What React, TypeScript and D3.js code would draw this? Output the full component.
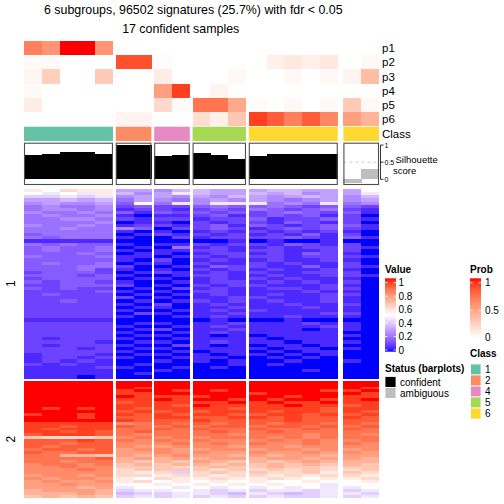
import React from "react";
import * as d3 from "d3";

const FONT = "'Liberation Sans', Arial, Helvetica, sans-serif";

// ---- data ----
const groupSizes = [5, 2, 2, 3, 5, 2];
const groupClass = [1, 2, 4, 5, 6, 6];
const classColors: Record<number, string> = {
  1: "#66C2A5",
  2: "#FC8D62",
  4: "#E78AC3",
  5: "#A6D854",
  6: "#FFD92F",
};
const legendClasses = [1, 2, 4, 5, 6];

const probLabels = ["p1", "p2", "p3", "p4", "p5", "p6"];
const p1 = [0.65, 0.55, 1.0, 1.0, 0.55, 0, 0, 0, 0, 0, 0, 0, 0, 0, 0, 0, 0, 0, 0];
const p2 = [0.03, 0.03, 0, 0, 0, 0.85, 0.85, 0.02, 0, 0, 0, 0, 0, 0.08, 0.12, 0.08, 0.12, 0, 0.04];
const p3 = [0.05, 0.25, 0, 0, 0.28, 0, 0, 0.1, 0, 0, 0, 0.04, 0, 0, 0.04, 0, 0.04, 0.06, 0.35];
const p4 = [0.03, 0, 0, 0, 0, 0, 0, 0.5, 0.9, 0, 0.06, 0, 0, 0, 0, 0, 0, 0, 0];
const p5 = [0.1, 0, 0, 0, 0, 0, 0, 0.2, 0.02, 0.7, 0.7, 0.45, 0.02, 0, 0.04, 0, 0.03, 0.28, 0.04];
const p6 = [0, 0, 0, 0, 0, 0.06, 0.06, 0, 0, 0.18, 0.08, 0.3, 0.9, 0.8, 0.65, 0.8, 0.62, 0.5, 0.4];
const probRows = [p1, p2, p3, p4, p5, p6];

const silhouette = [0.71, 0.74, 0.79, 0.79, 0.74, 0.99, 0.99, 0.68, 0.71, 0.77, 0.71, 0.59, 0.68, 0.74, 0.74, 0.74, 0.74, -0.1, 0.29];
const confident = [1, 1, 1, 1, 1, 1, 1, 1, 1, 1, 1, 1, 1, 1, 1, 1, 1, 0, 0];

// heatmap rows: letters a..u -> 0..1 in steps of 0.05 (groups separated by spaces)
const cluster1Rows = [
  "lkmll gg fh hgg ghhgg gk",
  "kjkjl hf gj hgg hghfg gj",
  "iijij fg gf gfh gfghg fh",
  "gghgh eg fe fgf gfefg fg",
  "fgffg dk ej fjj jefej ef",
  "efeef cd cc ded dedcd dc",
  "effef bc cb cdc edcde cb",
  "feefe db dc dcd cdedc db",
  "efeef ba bb cdb cdcdb ca",
  "eeffe cb cc bcc dbccd cb",
  "eeeef ab ba cbc cbdcb ca",
  "feefe bc cb cdb dcbcd db",
  "eefee fd ac cdc bcdcd cb",
  "eeeee ba ba bcb cbcbc ba",
  "deeee ab cb cbc bcbdb ca",
  "edeee ba ac bcc ccdcb db",
  "bbbbb aa aa aab abaab aa",
  "ededd ba bb cbc cbdcb ca",
  "dedde ab ae bcb bcbcc cb",
  "dedde ba bb ccb ccbbc ca",
  "ddded ab ba bcc bcbdc ba",
  "eddde bb ab cbc ccbcc cb",
  "ddddd ba ca bcb bcbbc ba",
  "dedde ab ba cbb cbcbb ca",
  "dddee ca ab bdc cbbdb cb",
  "dddec ba ba cbc bcbbc ba",
  "cdddc ab cb bcb cbbcc ca",
  "dddcd ba ab ccb bcbbc cb",
  "cdddd ab ba bcb cbcbb ba",
  "dcddc ba ab bcc bcbcb ca",
  "ccddd ca ba cbc cbbbc ba",
  "dcdcc ab ac bcb bccbc ca",
  "ccccd ba ba ccb bbbcb ba",
  "cdccc ab ab bcb bcbbc ca",
  "ccccc ca ba bbc cbbbc ba",
  "ccdcc ab ab cbc bcbbc ba",
  "ccccc ba ca bcb bbcbb ca",
  "ccccc ab ba bbc bbbcb ba",
  "ccccc ba ab bcb cbbbb ba",
  "ccccc ac ba bbc bbbbc ca",
  "ccccc ba ab bcb bbcbb ba",
  "bbbbb aa aa aba aabaa aa",
  "ccccc ab ba bbc bbbcb ba",
  "ccccc ba ab bcb bbbbc ba",
  "ccccc ab ca bbc bbbab ba",
  "ccccc ba ab bcb bbbbb aa",
  "ccccc ab ba bab abbbb ba",
  "cbccc ba ab bbb babbb aa",
  "ccccb ab ba bcb bbabb ba",
  "cbccc ba ac bab abbab aa",
  "cccbc ab ba bbb babba ba",
  "ccccc ba ab abb ababb aa",
  "bcccb ab ba bab babab aa",
  "bccbc ba ab bba ababa aa",
  "bcbcb aa ba bab aabaa ba",
  "cbcbb ab aa aab abaaa aa",
  "bbbbc ba ab aba aaaaa aa",
  "bbbbb aa ba aaa aaaba aa",
  "bbbbb ab aa aaa aaaaa aa",
  "bbbab aa aa aaa aaaaa aa",
];

const cluster2Rows = [
  "uuuuu uu uu uuu uuuuu uu",
  "uuuuu uu uu uuu uuuuu uu",
  "uuuuu ut uu uuu uuuuu ut",
  "uuuuu tu ut utu uuuut tu",
  "uuuuu tt uu uuu tuuuu ut",
  "uuuuu ut tt tuu uutuu tt",
  "uuuuu tt ut uut utuut tu",
  "uuuuu st tt ttu tuttu tt",
  "uuuuu tt ts utt ttutt st",
  "ututu ts tt tts tttts tt",
  "uuuuu st st stt tstts ts",
  "tuutu ts ts tts sttst st",
  "uuutu ss tt sst tstss ts",
  "uuuuu ts ss tss sstss ss",
  "ttttt qr sr srs srssr sr",
  "ttstt sr rs rss rssrs rs",
  "tsttt rr sr srr srrsr sr",
  "ttsts rs rr rsr rsrrr rr",
  "sttts rq rr rrq rrrqr rq",
  "nmmmn qr qr qrr rqrqr rr",
  "sssts rq rq rqq qrqrq qr",
  "ssrss qq qr qrq rqqrq rq",
  "srsss qp pq qqp qqpqq qq",
  "rssrs pq qp pqq pqqpq pq",
  "srrss pp qp qpp qppqp qp",
  "rroon po pq ppo poppo pp",
  "rrrrs op op opp oppop po",
  "rrqrr on on pon onopo oo",
  "qrrqr no no ono nonon on",
  "qqrqq nn nm non nonnm nn",
  "qqqrq mn nn nmn mnmnm mn",
  "qqqqq ml mi mnm nmmnl nm",
  "pqqpq mm lm mlm mlmlm ml",
  "qpqqp lk ml lml lmlkl lm",
  "pqppq lm kl klk lkklk kl",
  "ppqpp kk lk lkl klkkj kk",
  "pppop jk kj kjk jkjkj jk",
  "opppo ij jk jij ijjij ij",
  "ooopo hi ij jih jihij ji",
  "nonon ij ij iji ijiij ij",
];

const valueTicks = [0, 0.2, 0.4, 0.6, 0.8, 1];
const probTicks = [0, 0.5, 1];
const silTicks = [0, 0.5, 1];
const statusItems = [
  { label: "confident", color: "#000000" },
  { label: "ambiguous", color: "#BEBEBE" },
];

const titleLine1 = "6 subgroups, 96502 signatures (25.7%) with fdr < 0.05";
const titleLine2 = "17 confident samples";

// ---- helpers ----
const decodeRow = (s: string) =>
  s.replace(/\s+/g, "").split("").map((c) => (c.charCodeAt(0) - 97) / 20);

const valueColor = d3
  .scaleLinear<string>()
  .domain([0, 0.5, 1])
  .range(["#0000FF", "#FFFFFF", "#FF0000"])
  .interpolate(d3.interpolateLab)
  .clamp(true);

const probColor = d3
  .scaleLinear<string>()
  .domain([0, 1])
  .range(["#FFFFFF", "#FF0000"])
  .interpolate(d3.interpolateLab)
  .clamp(true);

// layout
const X0 = 24;
const X1 = 379;
const GAP = 2.83;
const BIG_GAP = 5.67;
const nCols = groupSizes.reduce((a, b) => a + b, 0);
const gaps = groupSizes.map((_, i) => (i === 0 ? 0 : i === groupSizes.length - 1 ? BIG_GAP : GAP));
const totalGap = gaps.reduce((a, b) => a + b, 0);
const colW = (X1 - X0 - totalGap) / nCols;

type Group = { start: number; end: number; cols: number[]; scale: d3.ScaleBand<string>; cls: number };
const groups: Group[] = [];
{
  let x = X0;
  let c = 0;
  groupSizes.forEach((n, gi) => {
    x += gaps[gi];
    const cols = d3.range(c, c + n);
    const scale = d3
      .scaleBand<string>()
      .domain(cols.map(String))
      .range([x, x + n * colW])
      .paddingInner(0)
      .paddingOuter(0);
    groups.push({ start: x, end: x + n * colW, cols, scale, cls: groupClass[gi] });
    x += n * colW;
    c += n;
  });
}
const colX = (c: number) => {
  const g = groups.find((gr) => gr.cols.includes(c))!;
  return { x: g.scale(String(c))!, w: g.scale.bandwidth() };
};

const probY = d3.scaleBand<string>().domain(probLabels).range([41, 126.2]);
const classY = [126.7, 141];
const silBox = [142.7, 185];
const silY = d3.scaleLinear().domain([0, 1]).range([179.3, 145]);

const c1 = cluster1Rows.map(decodeRow);
const c2 = cluster2Rows.map(decodeRow);
const y1 = d3.scaleBand<number>().domain(d3.range(c1.length)).range([189, 378.3]);
const y2 = d3.scaleBand<number>().domain(d3.range(c2.length)).range([380.7, 497.7]);

const valueLegendY = d3.scaleLinear().domain([0, 1]).range([350, 282.7]);
const probLegendY = d3.scaleLinear().domain([0, 1]).range([337.7, 282.7]);

function HeatBlock({ rows, yScale }: { rows: number[][]; yScale: d3.ScaleBand<number> }) {
  return (
    <g shapeRendering="crispEdges">
      {rows.map((r, ri) =>
        r.map((v, ci) => {
          const { x, w } = colX(ci);
          return (
            <rect
              key={`${ri}-${ci}`}
              x={x}
              y={yScale(ri)!}
              width={w + 0.4}
              height={yScale.bandwidth() + 0.4}
              fill={valueColor(v)}
            />
          );
        })
      )}
    </g>
  );
}

export default function App() {
  const valueStops = d3.range(0, 1.0001, 0.05);
  return (
    <svg
      width={504}
      height={504}
      viewBox="0 0 504 504"
      style={{ position: "absolute", left: 0, top: 0, background: "#fff" }}
      fontFamily={FONT}
    >
      <defs>
        <linearGradient id="valGrad" x1="0" y1="1" x2="0" y2="0">
          {valueStops.map((s) => (
            <stop key={s} offset={`${s * 100}%`} stopColor={valueColor(s)} />
          ))}
        </linearGradient>
        <linearGradient id="probGrad" x1="0" y1="1" x2="0" y2="0">
          {valueStops.map((s) => (
            <stop key={s} offset={`${s * 100}%`} stopColor={probColor(s)} />
          ))}
        </linearGradient>
      </defs>
      <rect width={504} height={504} fill="#fff" />

      {/* title */}
      <text x={193.3} y={14} fontSize={12.4} textAnchor="middle">
        {titleLine1}
      </text>
      <text x={180.7} y={32.7} fontSize={12.4} textAnchor="middle">
        {titleLine2}
      </text>

      {/* probability annotation */}
      <g shapeRendering="crispEdges">
        {probRows.map((row, ri) =>
          row.map((v, ci) => {
            const { x, w } = colX(ci);
            return (
              <rect
                key={`p${ri}-${ci}`}
                x={x}
                y={probY(probLabels[ri])!}
                width={w + 0.3}
                height={probY.bandwidth()}
                fill={probColor(v)}
              />
            );
          })
        )}
      </g>
      {probLabels.map((l) => (
        <text key={l} x={382} y={probY(l)! + probY.bandwidth() / 2 + 4} fontSize={11.5}>
          {l}
        </text>
      ))}

      {/* class annotation */}
      {groups.map((g, gi) => (
        <rect
          key={`cls${gi}`}
          x={g.start}
          y={classY[0]}
          width={g.end - g.start}
          height={classY[1] - classY[0]}
          fill={classColors[g.cls]}
        />
      ))}
      <text x={382} y={138} fontSize={11.5}>
        Class
      </text>

      {/* silhouette */}
      {groups.map((g, gi) => (
        <g key={`sil${gi}`}>
          {g.cols.map((c) => {
            const v = silhouette[c];
            const y0 = silY(0);
            const yv = silY(v);
            return (
              <rect
                key={c}
                x={g.scale(String(c))!}
                y={Math.min(y0, yv)}
                width={g.scale.bandwidth() + 0.3}
                height={Math.abs(y0 - yv)}
                fill={confident[c] ? "#000" : "#BEBEBE"}
                shapeRendering="crispEdges"
              />
            );
          })}
          {gi === groups.length - 1 && (
            <line
              x1={g.start}
              x2={g.end}
              y1={silY(0.5)}
              y2={silY(0.5)}
              stroke="#CCCCCC"
              strokeWidth={1}
              strokeDasharray="3,3"
            />
          )}
          <rect
            x={g.start + 0.5}
            y={silBox[0] + 0.5}
            width={g.end - g.start - 1}
            height={silBox[1] - silBox[0] - 1}
            fill="none"
            stroke="#4D4D4D"
            strokeWidth={1.1}
          />
        </g>
      ))}
      <line x1={380.5} x2={380.5} y1={silY(1)} y2={silY(0)} stroke="#000" strokeWidth={0.8} />
      {silTicks.map((t) => (
        <g key={`st${t}`}>
          <line x1={380.5} x2={383.5} y1={silY(t)} y2={silY(t)} stroke="#000" strokeWidth={0.8} />
          <text x={384.5} y={silY(t) + 2.5} fontSize={7}>
            {String(t)}
          </text>
        </g>
      ))}
      <text x={395.5} y={162.5} fontSize={9.5}>
        Silhouette
      </text>
      <text x={393} y={173.5} fontSize={9.5}>
        score
      </text>

      {/* heatmap */}
      <HeatBlock rows={c1} yScale={y1} />
      <HeatBlock rows={c2} yScale={y2} />

      {/* row titles */}
      <text transform={`translate(14.5,${(189 + 378.3) / 2}) rotate(-90)`} fontSize={12} textAnchor="middle">
        1
      </text>
      <text transform={`translate(14.5,${(380.7 + 497.7) / 2}) rotate(-90)`} fontSize={12} textAnchor="middle">
        2
      </text>

      {/* Value legend */}
      <text x={385} y={273} fontSize={10} fontWeight="bold">
        Value
      </text>
      <rect x={385} y={278.3} width={11} height={73.4} fill="url(#valGrad)" />
      {valueTicks.map((t) => (
        <g key={`vt${t}`}>
          <line x1={385} x2={387.5} y1={valueLegendY(t)} y2={valueLegendY(t)} stroke="#fff" strokeWidth={0.8} />
          <line x1={393.5} x2={396} y1={valueLegendY(t)} y2={valueLegendY(t)} stroke="#fff" strokeWidth={0.8} />
          <text x={398.5} y={valueLegendY(t) + 3.5} fontSize={10}>
            {String(t)}
          </text>
        </g>
      ))}

      {/* Prob legend */}
      <text x={470} y={273} fontSize={10} fontWeight="bold">
        Prob
      </text>
      <rect x={470} y={278.3} width={11} height={60} fill="url(#probGrad)" />
      {probTicks.map((t) => (
        <g key={`pt${t}`}>
          <line x1={470} x2={472.5} y1={probLegendY(t)} y2={probLegendY(t)} stroke="#fff" strokeWidth={0.8} />
          <line x1={478.5} x2={481} y1={probLegendY(t)} y2={probLegendY(t)} stroke="#fff" strokeWidth={0.8} />
          <text x={485} y={probLegendY(t) + 3.5} fontSize={10}>
            {String(t)}
          </text>
        </g>
      ))}

      {/* Class legend */}
      <text x={470} y={357} fontSize={10} fontWeight="bold">
        Class
      </text>
      {legendClasses.map((c, i) => (
        <g key={`lc${c}`}>
          <rect x={470.5} y={364 + i * 11} width={10.5} height={11} fill={classColors[c]} stroke="#fff" strokeWidth={0.8} />
          <text x={485} y={364 + i * 11 + 9} fontSize={10}>
            {String(c)}
          </text>
        </g>
      ))}

      {/* Status legend */}
      <text x={385} y={372} fontSize={10} fontWeight="bold">
        Status (barplots)
      </text>
      {statusItems.map((s, i) => (
        <g key={s.label}>
          <rect x={385} y={376.5 + i * 11} width={11} height={11} fill={s.color} stroke="#fff" strokeWidth={0.8} />
          <text x={400} y={376.5 + i * 11 + 9} fontSize={10}>
            {s.label}
          </text>
        </g>
      ))}
    </svg>
  );
}
